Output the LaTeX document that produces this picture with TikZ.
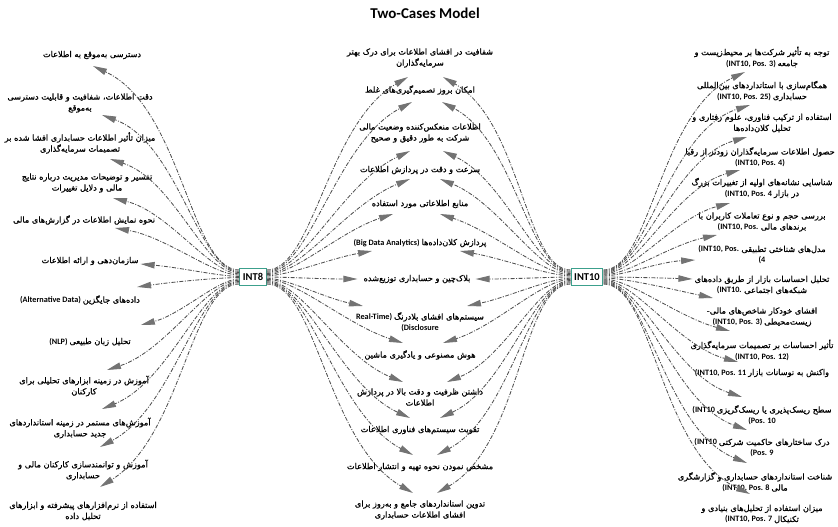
\documentclass[tikz,border=0pt]{standalone}
\usepackage{fontspec}
\setmainfont{Carlito}
\newfontfamily\fa[Script=Arabic,FakeBold=0.8]{DejaVu Sans}
\TeXXeTstate=1
\usetikzlibrary{arrows.meta}
\definecolor{lncol}{RGB}{80,80,80}
\definecolor{tipcol}{RGB}{115,115,115}
\definecolor{boxcol}{RGB}{60,160,140}
\newcommand\fat[1]{{\fa\beginR #1\endR}}
\newcommand\lat[1]{{\bfseries #1}}
\tikzset{
 txt/.style={font=\fontsize{8.2}{11}\selectfont, align=center, inner sep=0pt, text=black},
 hub/.style={draw=boxcol, line width=1.2pt, fill=white, font=\bfseries\fontsize{10.5}{12}\selectfont, inner xsep=3pt, inner ysep=2pt, minimum height=17pt},
 conn/.style={draw=lncol, line width=0.85pt, dash pattern=on 4pt off 1.5pt on 1pt off 1.5pt, -{Triangle[length=14pt,width=6.5pt,color=tipcol]}},
}
\begin{document}
\begin{tikzpicture}[x=1pt,y=1pt]
\useasboundingbox (0,0) rectangle (838,-527);
\node[font=\bfseries\fontsize{15}{18}\selectfont] (title) at (425,-13) {Two-Cases Model};
\node[hub] (int8) at (253,-277) {INT8};
\node[hub] (int10) at (587,-277) {INT10};
% left column
\node[txt] (l1) at (92,-55) {\fat{دسترسی به‌موقع به اطلاعات}};
\node[txt] (l2) at (80,-103) {\fat{دقت اطلاعات، شفافیت و قابلیت دسترسی}\\\fat{به‌موقع}};
\node[txt] (l3) at (80,-143) {\fat{میزان تأثیر اطلاعات حسابداری افشا شده بر}\\\fat{تصمیمات سرمایه‌گذاری}};
\node[txt] (l4) at (87,-183) {\fat{تفسیر و توضیحات مدیریت درباره نتایج}\\\fat{مالی و دلایل تغییرات}};
\node[txt] (l5) at (84,-220) {\fat{نحوه نمایش اطلاعات در گزارش‌های مالی}};
\node[txt] (l6) at (90,-261) {\fat{سازمان‌دهی و ارائه اطلاعات}};
\node[txt] (l7) at (80,-300) {\lat{(Alternative Data)} \fat{داده‌های جایگزین}};
\node[txt] (l8) at (90,-342) {\lat{(NLP)} \fat{تحلیل زبان طبیعی}};
\node[txt] (l9) at (84,-386) {\fat{آموزش در زمینه ابزارهای تحلیلی برای}\\\fat{کارکنان}};
\node[txt] (l10) at (80,-428) {\fat{آموزش‌های مستمر در زمینه استانداردهای}\\\fat{جدید حسابداری}};
\node[txt] (l11) at (83,-470) {\fat{آموزش و توانمندسازی کارکنان مالی و}\\\fat{حسابداری}};
\node[txt] (l12) at (83,-511) {\fat{استفاده از نرم‌افزارهای پیشرفته و ابزارهای}\\\fat{تحلیل داده}};
% middle column
\node[txt] (m1) at (420,-58) {\fat{شفافیت در افشای اطلاعات برای درک بهتر}\\\fat{سرمایه‌گذاران}};
\node[txt] (m2) at (420,-90) {\fat{امکان بروز تصمیم‌گیری‌های غلط}};
\node[txt] (m3) at (420,-133) {\fat{اطلاعات منعکس‌کننده وضعیت مالی}\\\fat{شرکت به طور دقیق و صحیح}};
\node[txt] (m4) at (420,-170) {\fat{سرعت و دقت در پردازش اطلاعات}};
\node[txt] (m5) at (420,-204) {\fat{منابع اطلاعاتی مورد استفاده}};
\node[txt] (m6) at (420,-243) {\lat{(Big Data Analytics)} \fat{پردازش کلان‌داده‌ها}};
\node[txt] (m7) at (417,-279) {\fat{بلاک‌چین و حسابداری توزیع‌شده}};
\node[txt] (m8) at (420,-322) {\lat{Real-Time)} \fat{سیستم‌های افشای بلادرنگ}\\\lat{(Disclosure}};
\node[txt] (m9) at (420,-355) {\fat{هوش مصنوعی و یادگیری ماشین}};
\node[txt] (m10) at (420,-397) {\fat{داشتن ظرفیت و دقت بالا در پردازش}\\\fat{اطلاعات}};
\node[txt] (m11) at (420,-430) {\fat{تقویت سیستم‌های فناوری اطلاعات}};
\node[txt] (m12) at (420,-467) {\fat{مشخص نمودن نحوه تهیه و انتشار اطلاعات}};
\node[txt] (m13) at (420,-510) {\fat{تدوین استانداردهای جامع و به‌روز برای}\\\fat{افشای اطلاعات حسابداری}};
% right column
\node[txt] (r1) at (762,-57) {\fat{توجه به تأثیر شرکت‌ها بر محیط‌زیست و}\\\lat{(INT10, Pos. 3)} \fat{جامعه}};
\node[txt] (r2) at (762,-91) {\fat{همگام‌سازی با استانداردهای بین‌المللی}\\\lat{(INT10, Pos. 25)} \fat{حسابداری}};
\node[txt] (r3) at (762,-123) {\fat{استفاده از ترکیب فناوری، علوم رفتاری و}\\\fat{تحلیل کلان‌داده‌ها}};
\node[txt] (r4) at (760,-157) {\fat{حصول اطلاعات سرمایه‌گذاران زودتر از رقبا}\\\lat{(INT10, Pos. 4)}};
\node[txt] (r5) at (762,-188) {\fat{شناسایی نشانه‌های اولیه از تغییرات بزرگ}\\\lat{(INT10, Pos. 4} \fat{در بازار}};
\node[txt] (r6) at (762,-222) {\fat{بررسی حجم و نوع تعاملات کاربران با}\\\lat{(INT10, Pos.} \fat{برندهای مالی}};
\node[txt] (r7) at (762,-255) {\lat{(INT10, Pos.} \fat{مدل‌های شناختی تطبیقی}\\\lat{(4}};
\node[txt] (r8) at (762,-285) {\fat{تحلیل احساسات بازار از طریق داده‌های}\\\lat{(INT10.} \fat{شبکه‌های اجتماعی}};
\node[txt] (r9) at (762,-317) {\fat{افشای خودکار شاخص‌های مالی-}\\\lat{(INT10, Pos. 3)} \fat{زیست‌محیطی}};
\node[txt] (r10) at (762,-350) {\fat{تأثیر احساسات بر تصمیمات سرمایه‌گذاری}\\\lat{(INT10, Pos. 12)}};
\node[txt] (r11) at (762,-373) {\lat{(INT10, Pos. 11} \fat{واکنش به نوسانات بازار}};
\node[txt] (r12) at (762,-415) {\lat{(INT10} \fat{سطح ریسک‌پذیری یا ریسک‌گریزی}\\\lat{(Pos. 10}};
\node[txt] (r13) at (762,-448) {\lat{(INT10} \fat{درک ساختارهای حاکمیت شرکتی}\\\lat{(Pos. 9}};
\node[txt] (r14) at (755,-482) {\fat{شناخت استانداردهای حسابداری و گزارشگری}\\\lat{(INT10, Pos. 8} \fat{مالی}};
\node[txt] (r15) at (762,-514) {\fat{میزان استفاده از تحلیل‌های بنیادی و}\\\lat{(INT10, Pos. 7} \fat{تکنیکال}};
% connectors INT8 -> left
\foreach \n/\an/\s/\a/\dx/\dy in {
 l1/center/7/-25/1/-11, l2/center/5.7/-20/22/-12, l3/center/4.5/-18/30/-16,
 l4/center/3.2/-14/26/-15, l5/center/1.9/-10/31/-8, l6/east/0.6/-5/2/-3,
 l7/east/-0.6/8/-3/13, l8/east/-1.9/15/10/17, l9/center/-3.2/18/23/16,
 l10/center/-4.5/22/22/19, l11/center/-5.7/28/17/23, l12/center/-7/32/17/24}
 \draw[conn] ([yshift=\s pt]int8.west) to[out=180,in=\a,out looseness=.5,in looseness=1] ([shift={(\dx pt,\dy pt)}]\n.\an);
% INT8 -> middle
\foreach \n/\an/\s/\a/\dx/\dy in {
 m1/center/7/210/-12/-19, m2/center/5.8/208/-8/-12, m3/center/4.7/205/-10/-18,
 m4/center/3.5/202/-10/-9, m5/center/2.3/198/-27/-10, m6/center/1.2/190/-48/-8,
 m7/west/0/180/-6/0, m8/center/-1.2/168/-57/16, m9/center/-2.3/162/-17/12,
 m10/center/-3.5/158/-17/15, m11/center/-4.7/155/-10/12, m12/center/-5.8/152/-7/12,
 m13/center/-7/150/-7/17}
 \draw[conn] ([yshift=\s pt]int8.east) to[out=0,in=\a,out looseness=.5,in looseness=1] ([shift={(\dx pt,\dy pt)}]\n.\an);
% INT10 -> middle
\foreach \n/\an/\s/\a/\dx/\dy in {
 m1/center/7/-30/23/-19, m2/center/5.8/-28/22/-12, m3/center/4.7/-25/23/-18,
 m4/center/3.5/-22/20/-9, m5/center/2.3/-18/20/-10, m6/center/1.2/-10/40/-8,
 m7/east/0/0/5/0, m8/center/-1.2/12/47/16, m9/center/-2.3/18/23/12,
 m10/center/-3.5/22/27/15, m11/center/-4.7/25/20/12, m12/center/-5.8/28/17/12,
 m13/center/-7/30/17/17}
 \draw[conn] ([yshift=\s pt]int10.west) to[out=180,in=\a,out looseness=.5,in looseness=1] ([shift={(\dx pt,\dy pt)}]\n.\an);
% INT10 -> right
\foreach \n/\an/\s/\a/\dx/\dy in {
 r1/center/7/205/-17/-15, r2/center/6/198/-12/-14, r3/center/5/196/-15/-14,
 r4/center/4/195/-20/-13, r5/center/3/195/-32/-15, r6/center/2/192/-45/-13,
 r7/west/1/183/-3/-5, r8/west/0/178/-2/6, r9/center/-1/168/-49/19,
 r10/center/-2/165/-32/19, r11/center/-3/165/-24/11, r12/center/-4/162/-20/18,
 r13/center/-5/160/-15/18, r14/center/-6/158/-8/19, r15/center/-7/155/-12/20}
 \draw[conn] ([yshift=\s pt]int10.east) to[out=0,in=\a,out looseness=.5,in looseness=1] ([shift={(\dx pt,\dy pt)}]\n.\an);
\end{tikzpicture}
\end{document}
